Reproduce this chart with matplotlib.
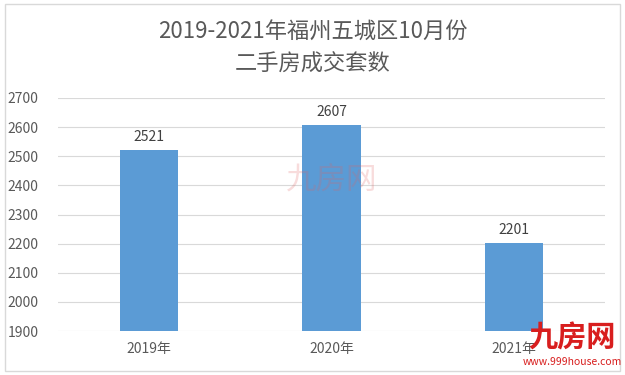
import matplotlib.pyplot as plt
import numpy as np
from matplotlib.patches import Rectangle

plt.rcParams['font.family'] = ['Noto Sans CJK SC', 'DejaVu Sans']

years = ['2019年', '2020年', '2021年']
deals = [2521, 2607, 2201]
yticks = [1900, 2000, 2100, 2200, 2300, 2400, 2500, 2600, 2700]

fig = plt.figure(figsize=(6.25, 3.75), dpi=100)
fig.patches.append(Rectangle((0.008, 0.01), 0.984, 0.98, transform=fig.transFigure,
                             fill=False, edgecolor='#d9d9d9', linewidth=1))
ax = fig.add_axes([0.093, 0.117, 0.875, 0.622])

x = np.arange(len(years))
ax.bar(x, deals, width=0.32, color='#5b9bd5', zorder=3)
for xi, v in zip(x, deals):
    ax.text(xi, v + 22, str(v), ha='center', va='bottom', fontsize=10, color='#404040')

ax.set_ylim(1900, 2700)
ax.set_xlim(-0.5, 2.5)
ax.set_yticks(yticks)
ax.set_xticks(x)
ax.set_xticklabels(years)
ax.grid(axis='y', color='#d9d9d9', linewidth=0.8, zorder=0)
for s in ax.spines.values():
    s.set_visible(False)
ax.tick_params(length=0, labelsize=10, colors='#595959')
ax.tick_params(axis='y', pad=14)
ax.tick_params(axis='x', pad=8)

fig.text(0.5, 0.915, '2019-2021年福州五城区10月份', ha='center', va='center',
         fontsize=16, color='#595959')
fig.text(0.5, 0.83, '二手房成交套数', ha='center', va='center',
         fontsize=16, color='#595959')

# watermark
fig.text(0.53, 0.52, '九房网', ha='center', va='center', fontsize=22,
         color='#e06060', alpha=0.22)
fig.text(0.915, 0.1, '九房网', ha='center', va='center', fontsize=21,
         color='#d81e1e', fontweight='bold', zorder=5)
fig.text(0.915, 0.035, 'www.999house.com', ha='center', va='center', fontsize=7.5,
         color='#d81e1e')

fig.savefig('out.png', dpi=100)
